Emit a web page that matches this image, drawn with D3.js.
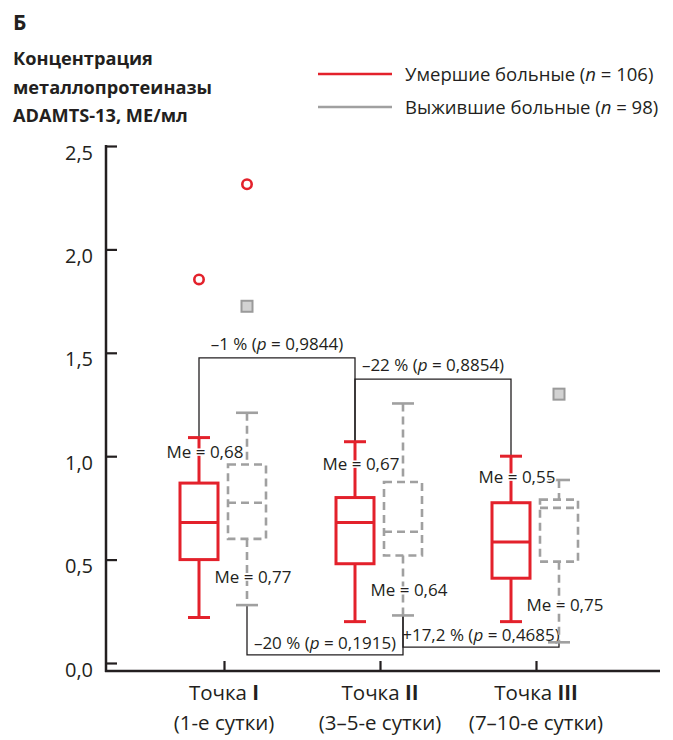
<!DOCTYPE html>
<html>
<head>
<meta charset="utf-8">
<script src="https://cdn.jsdelivr.net/npm/d3@7"></script>
<style>
  body { margin: 0; background: #fff; }
  text { font-family: "Open Sans", sans-serif; fill: #231f20; }
</style>
</head>
<body>
<div id="chart"></div>
<script>
//Data
const categories = ["Точка I", "Точка II", "Точка III"]
const categoryDays = ["(1-е сутки)", "(3–5-е сутки)", "(7–10-е сутки)"]
// [min, Q1, median, Q3, max] per time point
const deadBoxes = [[0.22, 0.50, 0.68, 0.87, 1.09], [0.20, 0.48, 0.68, 0.80, 1.07], [0.20, 0.41, 0.585, 0.775, 1.00]]
const aliveBoxes = [[0.28, 0.60, 0.775, 0.96, 1.21], [0.23, 0.52, 0.635, 0.875, 1.255], [0.10, 0.49, 0.75, 0.79, 0.885]]
const deadMedians = ["0,68", "0,67", "0,55"]
const aliveMedians = ["0,77", "0,64", "0,75"]
// [category, column, value]
const deadOutliers = [["Точка I", "dead", 1.855], ["Точка I", "alive", 2.315]]
const aliveOutliers = [["Точка I", "alive", 1.725], ["Точка III", "alive", 1.30]]
const yTicks = [0, 0.5, 1.0, 1.5, 2.0, 2.5]
const comparisons = [
  {from: 0, to: 1, series: "dead", change: "–1 %", p: "0,9844"},
  {from: 1, to: 2, series: "dead", change: "–22 %", p: "0,8854"},
  {from: 0, to: 1, series: "alive", change: "–20 %", p: "0,1915"},
  {from: 1, to: 2, series: "alive", change: "+17,2 %", p: "0,4685"}
]

//Layout (annotation placement in data units)
const bracketLevels = [1.475, 1.373, 0.039, 0.077]
const deadMeAt = [1.02, 0.96, 0.90]
const aliveMeAt = [0.416, 0.353, 0.28]

const red = "#e3212b"
const grey = "#a0a0a0"
const ink = "#231f20"

const width = 673, height = 740
const svg = d3.select("#chart").append("svg")
  .attr("width", width).attr("height", height)

const y = d3.scaleLinear().domain([0, 2.5]).range([663, 146])
const x = d3.scalePoint().domain(categories).range([224, 536])
const offset = {dead: -25, alive: 23}
const col = (cat, series) => x(cat) + offset[series]
const axisX = 106, axisY = 671

//Title and legend
svg.append("text").attr("x", 13).attr("y", 30)
  .attr("font-size", 21).attr("font-weight", 700).text("Б")
const titleLines = ["Концентрация", "металлопротеиназы", "ADAMTS-13, МЕ/мл"]
svg.selectAll(".title").data(titleLines).enter().append("text")
  .attr("x", 13).attr("y", (d, i) => 65 + i * 28.5)
  .attr("font-size", 18.2).attr("font-weight", 700).text(d => d)

const legend = [
  {color: red, label: "Умершие больные (", n: "106"},
  {color: grey, label: "Выжившие больные (", n: "98"}
]
legend.forEach((l, i) => {
  const ly = 74 + i * 33
  svg.append("line").attr("x1", 318).attr("x2", 392).attr("y1", ly).attr("y2", ly)
    .attr("stroke", l.color).attr("stroke-width", 2.5)
  const t = svg.append("text").attr("x", 405).attr("y", ly + 6.5).attr("font-size", 18.5)
  t.append("tspan").text(l.label)
  t.append("tspan").attr("font-style", "italic").text("n")
  t.append("tspan").text(" = " + l.n + ")")
})

//Axes
const yAxis = d3.axisLeft(y).tickValues(yTicks)
  .tickSizeInner(-11).tickSizeOuter(0).tickPadding(13)
  .tickFormat(d => d3.format(".1f")(d).replace(".", ","))
const gy = svg.append("g").attr("transform", "translate(" + axisX + ",0)").call(yAxis)
gy.select(".domain").remove()
gy.selectAll("line").attr("stroke", ink).attr("stroke-width", 2.2)
gy.selectAll("text").attr("font-size", 20).attr("font-family", "Open Sans, sans-serif")
  .attr("fill", ink).attr("dy", "0.85em").attr("transform", "translate(0,-4)")

const xAxis = d3.axisBottom(x).tickSizeInner(-10).tickSizeOuter(0).tickFormat("")
const gx = svg.append("g").attr("transform", "translate(0," + axisY + ")").call(xAxis)
gx.select(".domain").remove()
gx.selectAll("line").attr("stroke", ink).attr("stroke-width", 2.2)

svg.append("line").attr("x1", axisX).attr("x2", axisX).attr("y1", y(2.5) - 1).attr("y2", axisY + 1)
  .attr("stroke", ink).attr("stroke-width", 2.5)
svg.append("line").attr("x1", axisX - 1).attr("x2", 660).attr("y1", axisY).attr("y2", axisY)
  .attr("stroke", ink).attr("stroke-width", 2.5)

categories.forEach((c, i) => {
  const parts = c.split(" ")
  const t = svg.append("text").attr("x", x(c)).attr("y", 700)
    .attr("text-anchor", "middle").attr("font-size", 20.5)
  t.append("tspan").text(parts[0] + " ")
  t.append("tspan").attr("font-weight", 700).text(parts[1])
  svg.append("text").attr("x", x(c)).attr("y", 730)
    .attr("text-anchor", "middle").attr("font-size", 20.5).text(categoryDays[i])
})

//Comparison brackets
comparisons.forEach((cmp, i) => {
  const boxes = cmp.series == "dead" ? deadBoxes : aliveBoxes
  const end = cmp.series == "dead" ? 4 : 0
  const x1 = col(categories[cmp.from], cmp.series)
  const x2 = col(categories[cmp.to], cmp.series)
  const ly = y(bracketLevels[i])
  const path = d3.path()
  path.moveTo(x1, y(boxes[cmp.from][end]))
  path.lineTo(x1, ly)
  path.lineTo(x2, ly)
  path.lineTo(x2, y(boxes[cmp.to][end]))
  svg.append("path").attr("d", path.toString())
    .attr("fill", "none").attr("stroke", ink).attr("stroke-width", 1.3)
  const t = svg.append("text").attr("x", (x1 + x2) / 2).attr("y", ly - (cmp.series == "dead" ? 8 : 6))
    .attr("text-anchor", "middle").attr("font-size", 17)
  t.append("tspan").text(cmp.change + " (")
  t.append("tspan").attr("font-style", "italic").text("p")
  t.append("tspan").text(" = " + cmp.p + ")")
})

//Box plots
function drawBoxes(data, series, color, dash, sw) {
  const g = svg.append("g")
  data.forEach((b, i) => {
    const cx = col(categories[i], series)
    const style = sel => sel.attr("stroke", color).attr("stroke-width", sw)
      .attr("fill", "none").attr("stroke-dasharray", dash)
    style(g.append("line").attr("x1", cx).attr("x2", cx).attr("y1", y(b[4])).attr("y2", y(b[3])))
    style(g.append("line").attr("x1", cx).attr("x2", cx).attr("y1", y(b[1])).attr("y2", y(b[0])))
    ;[b[0], b[4]].forEach(v => {
      g.append("line").attr("x1", cx - 11).attr("x2", cx + 11).attr("y1", y(v)).attr("y2", y(v))
        .attr("stroke", color).attr("stroke-width", sw)
    })
    style(g.append("rect").attr("x", cx - 19).attr("width", 38)
      .attr("y", y(b[3])).attr("height", y(b[1]) - y(b[3])))
    style(g.append("line").attr("x1", cx - 19).attr("x2", cx + 19).attr("y1", y(b[2])).attr("y2", y(b[2])))
  })
}
drawBoxes(aliveBoxes, "alive", grey, "8,5", 2.6)
drawBoxes(deadBoxes, "dead", red, null, 3)

//Outliers
svg.selectAll(".outDead").data(deadOutliers).enter().append("circle")
  .attr("cx", d => col(d[0], d[1])).attr("cy", d => y(d[2])).attr("r", 4.7)
  .attr("fill", "#fff").attr("stroke", red).attr("stroke-width", 2.6)
svg.selectAll(".outAlive").data(aliveOutliers).enter().append("rect")
  .attr("x", d => col(d[0], d[1]) - 5.5).attr("y", d => y(d[2]) - 5.5)
  .attr("width", 11).attr("height", 11)
  .attr("fill", "#d2d2d2").attr("stroke", "#9a9a9a").attr("stroke-width", 2)

//Median labels
function medLabels(labels, at, series) {
  labels.forEach((m, i) => {
    svg.append("text").attr("x", col(categories[i], series) + 6).attr("y", y(at[i]))
      .attr("dy", "0.35em").attr("text-anchor", "middle").attr("font-size", 17)
      .attr("stroke", "#fff").attr("stroke-width", 3).attr("paint-order", "stroke")
      .text("Me = " + m)
  })
}
medLabels(deadMedians, deadMeAt, "dead")
medLabels(aliveMedians, aliveMeAt, "alive")
</script>
</body>
</html>
